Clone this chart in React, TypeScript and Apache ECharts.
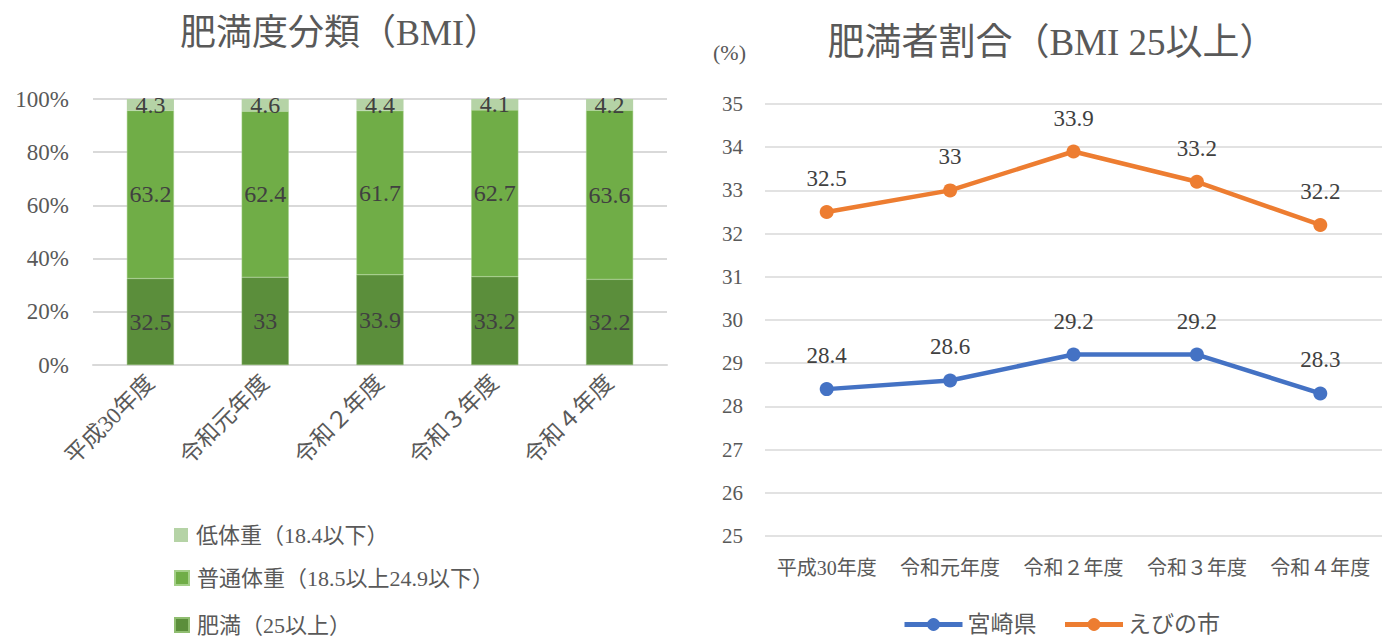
import React, { useEffect, useRef } from "react";
import * as echarts from "echarts";

const categories = ["平成30年度", "令和元年度", "令和２年度", "令和３年度", "令和４年度"];
const underweight = [4.3, 4.6, 4.4, 4.1, 4.2];
const normalWeight = [63.2, 62.4, 61.7, 62.7, 63.6];
const obese = [32.5, 33, 33.9, 33.2, 32.2];
const miyazaki = [28.4, 28.6, 29.2, 29.2, 28.3];
const ebino = [32.5, 33, 33.9, 33.2, 32.2];
const leftTicks = [0, 20, 40, 60, 80, 100];
const rightTicks = [25, 35];

const FONT = "'Liberation Serif', 'Noto Sans CJK JP', serif";
const TXT = "#595959";
const LBL = "#404040";

const NAME_LOW = "低体重（18.4以下）";
const NAME_NORMAL = "普通体重（18.5以上24.9以下）";
const NAME_OBESE = "肥満（25以上）";

export default function App() {
  const ref = useRef<HTMLDivElement>(null);
  useEffect(() => {
    document.body.style.margin = "0";
    const chart = echarts.init(ref.current!, null, { renderer: "svg" });
    const barLabel = {
      show: true,
      position: "inside",
      color: LBL,
      fontSize: 24,
      fontFamily: FONT,
    };
    const lineLabel = {
      show: true,
      position: "top",
      distance: 15,
      fontSize: 23,
      color: LBL,
      fontFamily: FONT,
    };
    const leftLegend = (name: string, top: number) => ({
      data: [name],
      orient: "vertical",
      left: 174,
      top,
      padding: 0,
      itemWidth: 14,
      itemHeight: 14,
      itemGap: 6,
      icon: "rect",
      textStyle: { fontSize: 22, color: TXT, fontFamily: FONT, padding: [0, 0, 0, 3] },
    });
    chart.setOption({
      animation: false,
      textStyle: { fontFamily: FONT },
      title: [
        {
          text: "肥満度分類（BMI）",
          left: 335,
          textAlign: "center",
          top: 10,
          textStyle: { fontSize: 36, fontWeight: "normal", color: TXT, fontFamily: FONT },
        },
        {
          text: "肥満者割合（BMI 25以上）",
          left: 1047,
          textAlign: "center",
          top: 19,
          textStyle: { fontSize: 37, fontWeight: "normal", color: TXT, fontFamily: FONT },
        },
        {
          text: "(%)",
          left: 708,
          top: 36,
          textStyle: { fontSize: 22, fontWeight: "normal", color: TXT, fontFamily: FONT },
        },
      ],
      legend: [
        leftLegend(NAME_LOW, 524),
        leftLegend(NAME_NORMAL, 567),
        leftLegend(NAME_OBESE, 614),
        {
          data: ["宮崎県", "えびの市"],
          left: 902,
          top: 613,
          padding: 0,
          itemWidth: 58,
          itemHeight: 16,
          itemGap: 26,
          lineStyle: { width: 5 },
          textStyle: { fontSize: 23, color: TXT, fontFamily: FONT },
        },
      ],
      grid: [
        { left: 93, right: 727, top: 99, bottom: 274 },
        { left: 765, right: 12, top: 104, bottom: 103 },
      ],
      xAxis: [
        {
          gridIndex: 0,
          type: "category",
          data: categories,
          axisTick: { show: false },
          axisLine: { lineStyle: { color: "#d9d9d9", width: 2 } },
          axisLabel: { interval: 0, rotate: 45, fontSize: 23, color: TXT, fontFamily: FONT, margin: 14 },
        },
        {
          gridIndex: 1,
          type: "category",
          data: categories,
          axisTick: { show: false },
          axisLine: { show: false },
          axisLabel: { interval: 0, hideOverlap: false, fontSize: 20, color: TXT, fontFamily: FONT, margin: 22 },
        },
      ],
      yAxis: [
        {
          gridIndex: 0,
          type: "value",
          min: leftTicks[0],
          max: leftTicks[leftTicks.length - 1],
          interval: 20,
          axisLabel: { formatter: "{value}%", fontSize: 23, color: TXT, fontFamily: FONT, margin: 24 },
          splitLine: { lineStyle: { color: "#d9d9d9", width: 2 } },
        },
        {
          gridIndex: 1,
          type: "value",
          min: rightTicks[0],
          max: rightTicks[1],
          interval: 1,
          axisLabel: { fontSize: 21, color: TXT, fontFamily: FONT, margin: 22 },
          splitLine: { lineStyle: { color: "#d9d9d9", width: 1.5 } },
        },
      ],
      series: [
        {
          name: NAME_OBESE,
          type: "bar",
          stack: "bmi",
          xAxisIndex: 0,
          yAxisIndex: 0,
          data: obese,
          barWidth: "41%",
          itemStyle: { color: "#5B8E3B", borderColor: "#8fbd70", borderWidth: 0.5 },
          label: barLabel,
        },
        {
          name: NAME_NORMAL,
          type: "bar",
          stack: "bmi",
          xAxisIndex: 0,
          yAxisIndex: 0,
          data: normalWeight,
          barWidth: "41%",
          itemStyle: { color: "#70AD47", borderColor: "#a4cf88", borderWidth: 0.5 },
          label: barLabel,
        },
        {
          name: NAME_LOW,
          type: "bar",
          stack: "bmi",
          xAxisIndex: 0,
          yAxisIndex: 0,
          data: underweight,
          barWidth: "41%",
          itemStyle: { color: "#B5D3A6" },
          label: barLabel,
        },
        {
          name: "宮崎県",
          type: "line",
          xAxisIndex: 1,
          yAxisIndex: 1,
          data: miyazaki,
          symbol: "circle",
          symbolSize: 14,
          lineStyle: { color: "#4472C4", width: 4.5 },
          itemStyle: { color: "#4472C4" },
          label: lineLabel,
        },
        {
          name: "えびの市",
          type: "line",
          xAxisIndex: 1,
          yAxisIndex: 1,
          data: ebino,
          symbol: "circle",
          symbolSize: 14,
          lineStyle: { color: "#ED7D31", width: 4.5 },
          itemStyle: { color: "#ED7D31" },
          label: lineLabel,
        },
      ],
    });
    return () => chart.dispose();
  }, []);
  return <div ref={ref} style={{ width: 1394, height: 639 }} />;
}
